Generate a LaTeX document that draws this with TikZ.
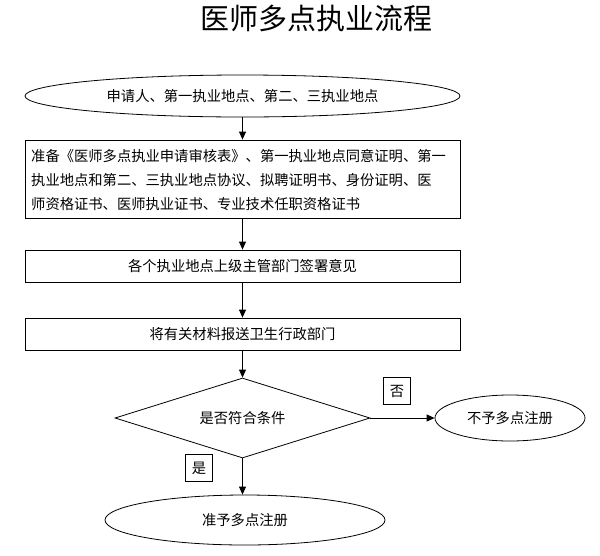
\documentclass[tikz,border=0pt]{standalone}
\usepackage{fontspec}
\setmainfont{Noto Sans CJK SC}
\usetikzlibrary{shapes.geometric,arrows.meta}
\begin{document}
\begin{tikzpicture}[x=1pt,y=-1pt,
  base/.style={draw,line width=0.8pt,inner sep=0pt,font=\fontsize{14.3}{21}\selectfont},
  oval/.style={base,ellipse},
  boxn/.style={base,rectangle},
  dia/.style={base,diamond},
  lbl/.style={base,rectangle,minimum width=27,minimum height=27},
  arr/.style={-{Triangle[length=8pt,width=7pt]},line width=0.8pt}]
\useasboundingbox (0,0) rectangle (600,555);
\node[font=\fontsize{29}{32}\selectfont] (title) at (316,18) {医师多点执业流程};
\node[oval,minimum width=435,minimum height=42] (s) at (242.5,96) {申请人、第一执业地点、第二、三执业地点};
\node[boxn,minimum width=435,minimum height=78] (b1) at (242.5,179) {};
\node[anchor=west,font=\fontsize{14.3}{24}\selectfont,align=left,inner sep=0pt] (t1) at (31,180) {准备《医师多点执业申请审核表》、第一执业地点同意证明、第一\\执业地点和第二、三执业地点协议、拟聘证明书、身份证明、医\\师资格证书、医师执业证书、专业技术任职资格证书};
\node[boxn,minimum width=435,minimum height=32] (b2) at (242.5,266) {各个执业地点上级主管部门签署意见};
\node[boxn,minimum width=435,minimum height=32] (b3) at (242.5,334) {将有关材料报送卫生行政部门};
\node[dia,minimum width=255,minimum height=80,aspect=3.2] (d) at (242.5,418) {是否符合条件};
\node[oval,minimum width=150,minimum height=46] (no) at (510,418) {不予多点注册};
\node[oval,minimum width=280,minimum height=50] (yes) at (245,520) {准予多点注册};
\node[lbl] (lno) at (397,391) {否};
\node[lbl] (lyes) at (199,468) {是};
\draw[arr] (s) -- (b1);
\draw[arr] (b1) -- (b2);
\draw[arr] (b2) -- (b3);
\draw[arr] (b3) -- (d);
\draw[arr] (d) -- (no);
\draw[arr] (d.south) -- (d.south |- yes.north);
\end{tikzpicture}
\end{document}
